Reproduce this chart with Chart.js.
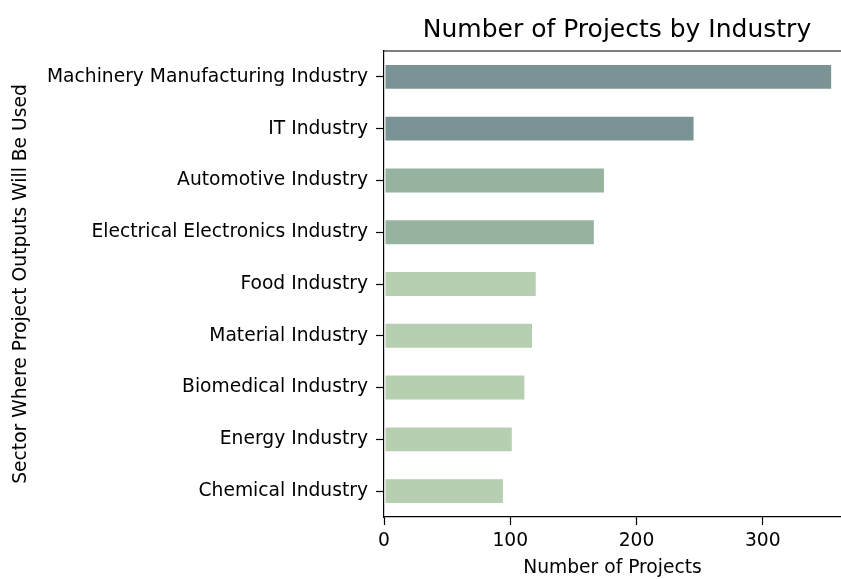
<!DOCTYPE html>
<html>
<head>
<meta charset="utf-8">
<script src="https://cdn.jsdelivr.net/npm/chart.js@4"></script>
<style>
  html, body { margin: 0; padding: 0; background: #fff; }
  #wrap { width: 841px; height: 579px; }
</style>
</head>
<body>
<div id="wrap"><canvas id="myChart" width="841" height="579"></canvas></div>
<script>
var industries = ['Machinery Manufacturing Industry', 'IT Industry', 'Automotive Industry',
  'Electrical Electronics Industry', 'Food Industry', 'Material Industry',
  'Biomedical Industry', 'Energy Industry', 'Chemical Industry'];
var project_counts = [355, 246, 175, 167, 121, 118, 112, 102, 95];
var x_ticks = [0, 100, 200, 300];
var chart_title = 'Number of Projects by Industry';

var bar_colors = [];
for (var i = 0; i < project_counts.length; i++) {
  if (project_counts[i] > 200) bar_colors.push('#7a9394');
  else if (project_counts[i] > 150) bar_colors.push('#95b39f');
  else bar_colors.push('#b5cfb0');
}

// matplotlib keeps the top spine and centres the title over the axes,
// so both are drawn here
var axesExtras = {
  id: 'axesExtras',
  afterDraw: function(chart) {
    var c = chart.ctx, a = chart.chartArea;
    c.save();
    c.strokeStyle = '#000';
    c.lineWidth = 1.2;
    c.beginPath();
    c.moveTo(a.left, a.top);
    c.lineTo(a.right, a.top);
    c.stroke();
    c.fillStyle = '#000';
    c.font = '25px "DejaVu Sans"';
    c.textAlign = 'center';
    c.textBaseline = 'alphabetic';
    c.fillText(chart_title, 617, 37);
    c.restore();
  }
};

var ctx = document.getElementById('myChart').getContext('2d');
var myChart = new Chart(ctx, {
  type: 'bar',
  data: {
    labels: industries,
    datasets: [{
      data: project_counts,
      backgroundColor: bar_colors,
      borderColor: 'rgba(255,255,255,0.6)',
      borderWidth: 1,
      borderSkipped: false,
      barPercentage: 0.5,
      categoryPercentage: 1.0
    }]
  },
  options: {
    indexAxis: 'y',
    responsive: false,
    animation: false,
    layout: { padding: { left: 0, right: 0, top: 51, bottom: 0 } },
    plugins: {
      legend: { display: false },
      tooltip: { enabled: false },
      title: { display: false }
    },
    scales: {
      x: {
        min: 0,
        max: 362,
        afterBuildTicks: function(scale) {
          scale.ticks = x_ticks.map(function(v) { return { value: v }; });
        },
        afterFit: function(scale) { scale.height = 62; },
        grid: { display: true, drawOnChartArea: false, tickLength: 8, tickColor: '#000', tickWidth: 1.2 },
        border: { display: true, color: '#000', width: 1.2 },
        ticks: { color: '#000', padding: 5, maxRotation: 0, font: { family: 'DejaVu Sans', size: 18.7 } },
        title: {
          display: true,
          text: 'Number of Projects',
          color: '#000',
          padding: { top: 2, bottom: 0 },
          font: { family: 'DejaVu Sans', size: 18.7 }
        }
      },
      y: {
        afterFit: function(scale) { scale.width = 384; },
        grid: { display: true, offset: false, drawOnChartArea: false, tickLength: 8, tickColor: '#000', tickWidth: 1.2 },
        border: { display: true, color: '#000', width: 1.2 },
        ticks: { color: '#000', padding: 8, autoSkip: false, font: { family: 'DejaVu Sans', size: 18.7 } },
        title: {
          display: true,
          text: 'Sector Where Project Outputs Will Be Used',
          color: '#000',
          padding: { top: 10, bottom: 0 },
          font: { family: 'DejaVu Sans', size: 18.7 }
        }
      }
    }
  },
  plugins: [axesExtras]
});
</script>
</body>
</html>
